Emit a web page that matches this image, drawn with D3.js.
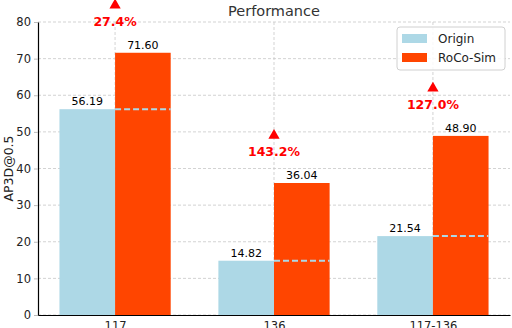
<!DOCTYPE html>
<html>
<head>
  <meta charset="UTF-8">
  <style>
    body { margin: 0; background: #fff; }
    text { font-family: "DejaVu Sans", sans-serif; }
  </style>
  <title>Performance</title>
</head>
<body>
<svg></svg>
<script src="https://d3js.org/d3.v7.min.js"></script>
<script>

let width = 512, height = 328;

// data
let categories = ["117", "136", "117-136"];
let origin = [56.19, 14.82, 21.54];
let rocoSim = [71.60, 36.04, 48.90];
let gains = ["27.4%", "143.2%", "127.0%"];
let yTicks = [0, 10, 20, 30, 40, 50, 60, 70, 80];

let margin = {left: 38, right: 2, top: 22, bottom: 13};
let barW = 0.35;

let svg = d3.select("svg")
    .attr("width", width)
    .attr("height", height);

let x = d3.scaleLinear()
    .domain([-0.485, 2.485])
    .range([margin.left, width - margin.right]);

let y = d3.scaleLinear()
    .domain([0, 80])
    .range([height - margin.bottom, margin.top]);

// grid
svg.append("g")
    .selectAll("line")
    .data(yTicks)
  .enter()
    .append("line")
    .attr("x1", x.range()[0]).attr("x2", x.range()[1])
    .attr("y1", d => y(d)).attr("y2", d => y(d))
    .attr("stroke", "#c8c8c8")
    .attr("stroke-width", 0.8)
    .attr("stroke-dasharray", "3,2");

svg.append("g")
    .selectAll("line")
    .data(categories)
  .enter()
    .append("line")
    .attr("x1", (d, i) => x(i)).attr("x2", (d, i) => x(i))
    .attr("y1", y(0)).attr("y2", y(80))
    .attr("stroke", "#c8c8c8")
    .attr("stroke-width", 0.8)
    .attr("stroke-dasharray", "3,2");

// bars
svg.append("g")
    .selectAll("rect")
    .data(origin)
  .enter()
    .append("rect")
    .attr("x", (d, i) => x(i - barW))
    .attr("width", (d, i) => x(i) - x(i - barW))
    .attr("y", d => y(d))
    .attr("height", d => y(0) - y(d))
    .attr("fill", "#add8e6");

svg.append("g")
    .selectAll("rect")
    .data(rocoSim)
  .enter()
    .append("rect")
    .attr("x", (d, i) => x(i))
    .attr("width", (d, i) => x(i + barW) - x(i))
    .attr("y", d => y(d))
    .attr("height", d => y(0) - y(d))
    .attr("fill", "#ff4500");

// dashed origin level across RoCo bar
svg.append("g")
    .selectAll("line")
    .data(origin)
  .enter()
    .append("line")
    .attr("x1", (d, i) => x(i)).attr("x2", (d, i) => x(i + barW))
    .attr("y1", d => y(d)).attr("y2", d => y(d))
    .attr("stroke", "#add8e6")
    .attr("stroke-width", 2)
    .attr("stroke-dasharray", "6,3");

// value labels
svg.append("g")
    .selectAll("text")
    .data(origin)
  .enter()
    .append("text")
    .attr("x", (d, i) => x(i - barW / 2))
    .attr("y", d => y(d) - 4)
    .attr("text-anchor", "middle")
    .attr("font-size", 11)
    .text(d => d.toFixed(2));

svg.append("g")
    .selectAll("text")
    .data(rocoSim)
  .enter()
    .append("text")
    .attr("x", (d, i) => x(i + barW / 2))
    .attr("y", d => y(d) - 4)
    .attr("text-anchor", "middle")
    .attr("font-size", 11)
    .text(d => d.toFixed(2));

// gain markers
svg.append("g")
    .selectAll("path")
    .data(rocoSim)
  .enter()
    .append("path")
    .attr("d", d3.symbol().type(d3.symbolTriangle).size(55))
    .attr("transform", (d, i) => "translate(" + x(i) + "," + y(d + 13) + ")")
    .attr("fill", "red");

svg.append("g")
    .selectAll("text")
    .data(rocoSim)
  .enter()
    .append("text")
    .attr("x", (d, i) => x(i))
    .attr("y", d => y(d + 8.5))
    .attr("dy", "0.36em")
    .attr("text-anchor", "middle")
    .attr("font-size", 12.5)
    .attr("font-weight", "bold")
    .attr("fill", "red")
    .text((d, i) => gains[i]);

// axes
let yAxis = svg.append("g")
    .attr("transform", "translate(" + margin.left + ",0)")
    .call(d3.axisLeft(y).tickValues(yTicks).tickSize(4).tickSizeOuter(0));
yAxis.select(".domain").attr("stroke", "#000").attr("stroke-width", 1.2);
yAxis.selectAll(".tick line").attr("stroke", "#bbb");
yAxis.selectAll(".tick text").attr("font-size", 11.5).attr("fill", "#222")
    .style("font-family", "DejaVu Sans");

let xAxis = svg.append("g")
    .attr("transform", "translate(0," + y(0) + ")")
    .call(d3.axisBottom(x).tickValues([0, 1, 2]).tickFormat(i => categories[i]).tickSize(0).tickSizeOuter(0));
xAxis.select(".domain").attr("stroke", "#000").attr("stroke-width", 1.2);
xAxis.selectAll(".tick text").attr("font-size", 11.5).attr("fill", "#222").attr("dy", "1.05em")
    .style("font-family", "DejaVu Sans");

// title and y label
svg.append("text")
    .attr("x", x(1))
    .attr("y", 16)
    .attr("text-anchor", "middle")
    .attr("font-size", 14.5)
    .attr("fill", "#333")
    .text("Performance");

svg.append("text")
    .attr("transform", "translate(13," + (y(40)) + ") rotate(-90)")
    .attr("text-anchor", "middle")
    .attr("font-size", 12.5)
    .attr("fill", "#222")
    .text("AP3D@0.5");

// legend
let legend = svg.append("g").attr("transform", "translate(397,27)");
legend.append("rect")
    .attr("width", 108).attr("height", 43)
    .attr("rx", 3)
    .attr("fill", "#fff").attr("fill-opacity", 0.85)
    .attr("stroke", "#d0d0d0");
let series = [["Origin", "#add8e6"], ["RoCo-Sim", "#ff4500"]];
series.forEach((s, i) => {
    legend.append("rect")
        .attr("x", 5).attr("y", 7 + i * 19)
        .attr("width", 25).attr("height", 9)
        .attr("fill", s[1]);
    legend.append("text")
        .attr("x", 41).attr("y", 12 + i * 19)
        .attr("dy", "0.36em")
        .attr("font-size", 12)
        .attr("fill", "#222")
        .text(s[0]);
});

</script>
</body>
</html>
